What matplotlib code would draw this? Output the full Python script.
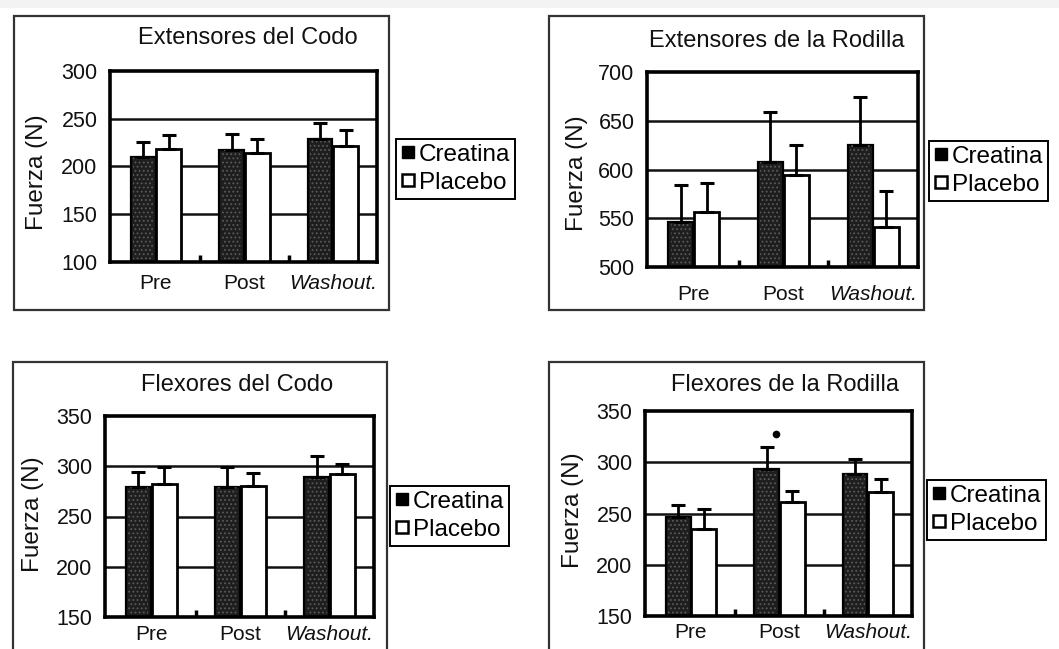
import matplotlib
matplotlib.use("Agg")
import matplotlib.pyplot as plt
from matplotlib.patches import Rectangle
from matplotlib.lines import Line2D
import numpy as np

plt.rcParams['font.family'] = ['Liberation Sans', 'DejaVu Sans']
plt.rcParams['hatch.linewidth'] = 0.8

# ---- data ----
groups = ['Pre', 'Post', 'Washout.']
series = ['Creatina', 'Placebo']

ext_codo_cre = [210, 217, 229]
ext_codo_cre_err = [16, 17, 17]
ext_codo_pla = [218, 214, 221]
ext_codo_pla_err = [15, 15, 17]

ext_rod_cre = [546, 608, 625]
ext_rod_cre_err = [38, 51, 49]
ext_rod_pla = [556, 594, 541]
ext_rod_pla_err = [30, 31, 37]

flex_codo_cre = [279, 279, 289]
flex_codo_cre_err = [15, 20, 21]
flex_codo_pla = [282, 280, 292]
flex_codo_pla_err = [17, 13, 10]

flex_rod_cre = [247, 293, 289]
flex_rod_cre_err = [11, 22, 14]
flex_rod_pla = [235, 261, 271]
flex_rod_pla_err = [19, 11, 13]

titles = ['Extensores del Codo', 'Extensores de la Rodilla',
          'Flexores del Codo', 'Flexores de la Rodilla']
ylims = [(100, 300), (500, 700), (150, 350), (150, 350)]
sig_value = 328  # asterisk above Post creatina, Flexores de la Rodilla

W, H = 1059, 649
fig = plt.figure(figsize=(W / 100, H / 100), dpi=100)
fig.patch.set_facecolor('white')

def fx(px):
    return px / W

def fy(py):
    return 1 - py / H

# top grey strip
fig.patches.append(Rectangle((0, fy(8)), 1, 8 / H, transform=fig.transFigure,
                             facecolor='#f3f3f3', edgecolor='none', zorder=0))

panels = [
    dict(ax=(110, 71, 377, 262), box=(14, 16, 389, 310), title=(248, 38),
         ylab=(37, 172), leg=(396, 139), xpad=9,
         cre=ext_codo_cre, cre_e=ext_codo_cre_err, pla=ext_codo_pla, pla_e=ext_codo_pla_err),
    dict(ax=(647, 72, 918, 267), box=(549, 16, 924, 310), title=(777, 41),
         ylab=(577, 173), leg=(929, 141), xpad=13,
         cre=ext_rod_cre, cre_e=ext_rod_cre_err, pla=ext_rod_pla, pla_e=ext_rod_pla_err),
    dict(ax=(105, 416, 374, 617), box=(13, 362, 387, 700), title=(237, 385),
         ylab=(33, 514), leg=(390, 486), xpad=6,
         cre=flex_codo_cre, cre_e=flex_codo_cre_err, pla=flex_codo_pla, pla_e=flex_codo_pla_err),
    dict(ax=(645, 411, 912, 616), box=(549, 362, 924, 700), title=(785, 385),
         ylab=(573, 510), leg=(927, 480), xpad=5,
         cre=flex_rod_cre, cre_e=flex_rod_cre_err, pla=flex_rod_pla, pla_e=flex_rod_pla_err),
]

x = np.arange(len(groups))
bw = 0.28
off = 0.145

for i, p in enumerate(panels):
    # outer frame
    x0, y0, x1, y1 = p['box']
    fig.patches.append(Rectangle((fx(x0), fy(y1)), (x1 - x0) / W, (y1 - y0) / H,
                                 transform=fig.transFigure, facecolor='none',
                                 edgecolor='#333333', linewidth=1.6, zorder=1))
    a0, b0, a1, b1 = p['ax']
    ax = fig.add_axes([fx(a0), fy(b1), (a1 - a0) / W, (b1 - b0) / H])
    ax.set_facecolor('white')
    lo, hi = ylims[i]
    ax.set_ylim(lo, hi)
    ax.set_xlim(-0.52, 2.5)
    yt = np.arange(lo, hi + 1, 50)
    ax.set_yticks(yt)
    for t in yt[1:-1]:
        ax.axhline(t, color='#111111', linewidth=1.8, zorder=0)
    ax.bar(x - off, p['cre'], bw, color='#1e1e1e', edgecolor='black', linewidth=1.6, zorder=2)
    # speckled texture of the dark bars
    ax.bar(x - off, p['cre'], bw * 0.8, color='none', edgecolor='#5a5a5a', linewidth=0,
           hatch='....', zorder=2.1)
    ax.bar(x + off, p['pla'], bw, color='white', edgecolor='black', linewidth=2.0, zorder=2)
    zeros = [0, 0, 0]
    ax.errorbar(x - off, p['cre'], yerr=[zeros, p['cre_e']], fmt='none', ecolor='black',
                elinewidth=2, capsize=5, capthick=2.2, zorder=3)
    ax.errorbar(x + off, p['pla'], yerr=[zeros, p['pla_e']], fmt='none', ecolor='black',
                elinewidth=2, capsize=5, capthick=2.2, zorder=3)
    for s in ax.spines.values():
        s.set_linewidth(2.6)
        s.set_color('black')
        s.set_zorder(4)
    ax.set_xticks(x)
    ax.set_xticklabels(groups)
    ax.get_xticklabels()[2].set_style('italic')
    ax.set_xticks([0.5, 1.5], minor=True)
    ax.tick_params(axis='x', which='major', length=0, pad=p['xpad'], labelsize=15,
                   labelcolor='#111111')
    ax.tick_params(axis='x', which='minor', direction='in', length=5, width=2.5)
    ax.tick_params(axis='y', length=0, pad=9, labelsize=15.5, labelcolor='#111111')
    # title and ylabel
    fig.text(fx(p['title'][0]), fy(p['title'][1]), titles[i], ha='center', va='center',
             fontsize=17, color='#111111')
    fig.text(fx(p['ylab'][0]), fy(p['ylab'][1]), 'Fuerza (N)', ha='center', va='center',
             rotation=90, fontsize=17.5, color='#111111')
    if i == 3:
        ax.plot([1 - 0.04], [sig_value], 'o', color='black', markersize=4.5, zorder=5)
    handles = [Line2D([], [], marker='s', linestyle='none', markersize=8.5,
                      markerfacecolor='black', markeredgecolor='black'),
               Line2D([], [], marker='s', linestyle='none', markersize=8.5,
                      markerfacecolor='white', markeredgecolor='black', markeredgewidth=1.8)]
    leg = fig.legend(handles, series, loc='upper left',
                     bbox_to_anchor=(fx(p['leg'][0]), fy(p['leg'][1])),
                     bbox_transform=fig.transFigure, borderaxespad=0, borderpad=0.2,
                     handlelength=0.55, handletextpad=0.2, labelspacing=0.25,
                     frameon=True, fancybox=False, edgecolor='black', framealpha=1,
                     fontsize=17.5)
    leg.get_frame().set_linewidth(1.4)

fig.savefig('out.png', dpi=100, facecolor='white')
